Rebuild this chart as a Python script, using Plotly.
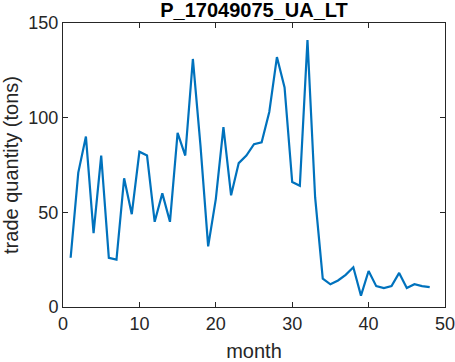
import plotly.graph_objects as go

months = list(range(1, 49))
quantity = [26, 71, 90, 39, 80, 26, 25, 68, 49, 82,
            80, 45, 60, 45, 92, 80, 131, 85, 32, 57,
            95, 59, 76, 80, 86, 87, 103, 132, 116, 66,
            64, 141, 58, 15, 12, 14, 17, 21, 6, 19,
            11, 10, 11, 18, 10, 12, 11, 10.5]

FONT = 'Liberation Sans, Arial'

fig = go.Figure()
fig.add_trace(go.Scatter(
    x=months,
    y=quantity,
    mode='lines',
    line=dict(color='#0072BD', width=2.2)
))

axis_style = dict(
    showgrid=False,
    zeroline=False,
    showline=True,
    linecolor='#262626',
    linewidth=1,
    mirror='ticks',
    ticks='inside',
    ticklen=5,
    tickcolor='#262626',
    automargin=False,
    ticklabeloverflow='allow',
    tickfont=dict(family=FONT, size=18, color='#262626'),
)

fig.update_layout(
    width=455,
    height=362,
    margin=dict(l=63, r=10, t=23, b=55, autoexpand=False),
    paper_bgcolor='white',
    plot_bgcolor='white',
    showlegend=False,
    title=dict(
        text='<b>P_17049075_UA_LT</b>',
        x=254 / 455, xanchor='center', y=1 - 10 / 362, yanchor='middle',
        font=dict(family=FONT, size=20, color='black')
    ),
    xaxis=dict(axis_style, range=[0, 50], tickvals=[0, 10, 20, 30, 40, 50],
               title=dict(text='month',
                          font=dict(family=FONT, size=20, color='#262626'))),
    yaxis=dict(axis_style, range=[0, 150], tickvals=[0, 50, 100, 150],
               title=dict(text='trade quantity (tons)',
                          font=dict(family=FONT, size=20, color='#262626'))),
)

# la page a une marge par défaut de 8px, on l'enlève
fig.write_html("out.html", config={'displayModeBar': False},
               post_script="document.body.style.margin='0';")
